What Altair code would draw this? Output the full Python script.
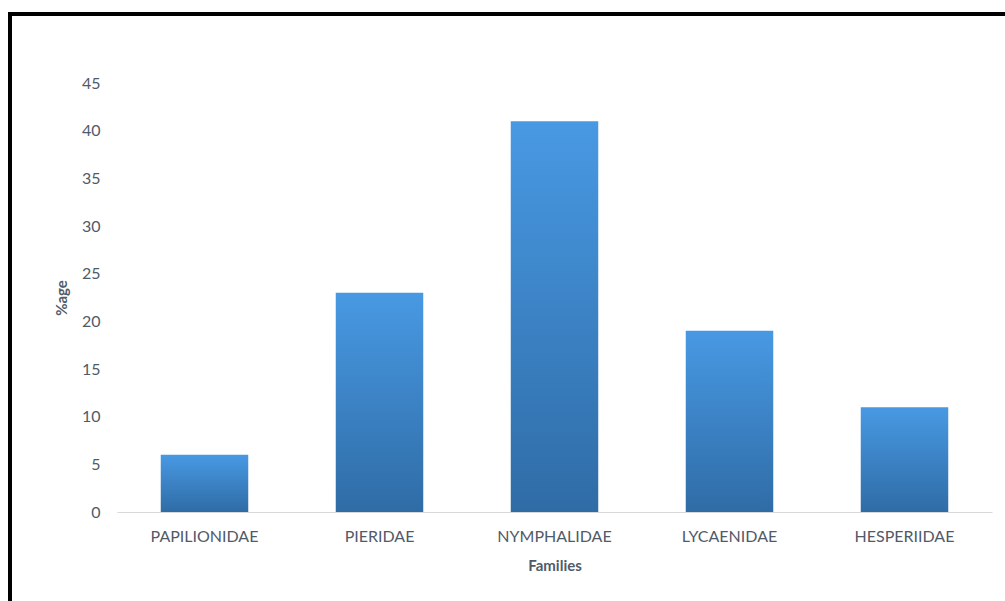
import altair as alt
import pandas as pd

families = ["PAPILIONIDAE", "PIERIDAE", "NYMPHALIDAE", "LYCAENIDAE", "HESPERIIDAE"]
percent = [6, 23, 41, 19, 11]

df = pd.DataFrame({"family": families, "pct": percent})

FONT = "Lato"
GREY = "#515a68"

bars = alt.Chart(df).mark_bar(
    color=alt.Gradient(
        gradient="linear",
        stops=[alt.GradientStop(color="#4899e3", offset=0),
               alt.GradientStop(color="#2f6ca6", offset=1)],
        x1=0, x2=0, y1=0, y2=1,
    ),
).encode(
    x=alt.X("family:N", sort=families, title="Families",
            scale=alt.Scale(paddingInner=0.5, paddingOuter=0.25),
            axis=alt.Axis(labelAngle=0, ticks=False, domainColor="#d9d9d9", domainWidth=1,
                          labelColor=GREY, labelFont=FONT, labelFontSize=16, labelPadding=16,
                          titleColor=GREY, titleFont=FONT, titleFontSize=15, titleFontWeight="bold",
                          titlePadding=14)),
    y=alt.Y("pct:Q", title="%age",
            scale=alt.Scale(domain=[0, 45], nice=False),
            axis=alt.Axis(values=list(range(0, 50, 5)), grid=False, domain=False, ticks=False,
                          labelColor=GREY, labelFont=FONT, labelFontSize=16, labelPadding=17,
                          titleColor=GREY, titleFont=FONT, titleFontSize=15, titleFontWeight="bold",
                          titlePadding=12)),
)

one = pd.DataFrame({"a": [0]})
left_border = alt.Chart(one).mark_rule(color="black", strokeWidth=4).encode(
    x=alt.value(-107), y=alt.value(-71), y2=alt.value(520))
top_border = alt.Chart(one).mark_rule(color="black", strokeWidth=4).encode(
    y=alt.value(-69), x=alt.value(-109), x2=alt.value(890))

chart = alt.layer(bars, left_border, top_border).properties(
    width=875, height=429,
    background="white",
    autosize=alt.AutoSizeParams(type="none"),
    padding={"left": 117, "top": 83, "right": 13, "bottom": 89},
).configure_view(strokeWidth=0, stroke=None)

chart.save("out.html", embed_options={"renderer": "svg", "actions": False})
